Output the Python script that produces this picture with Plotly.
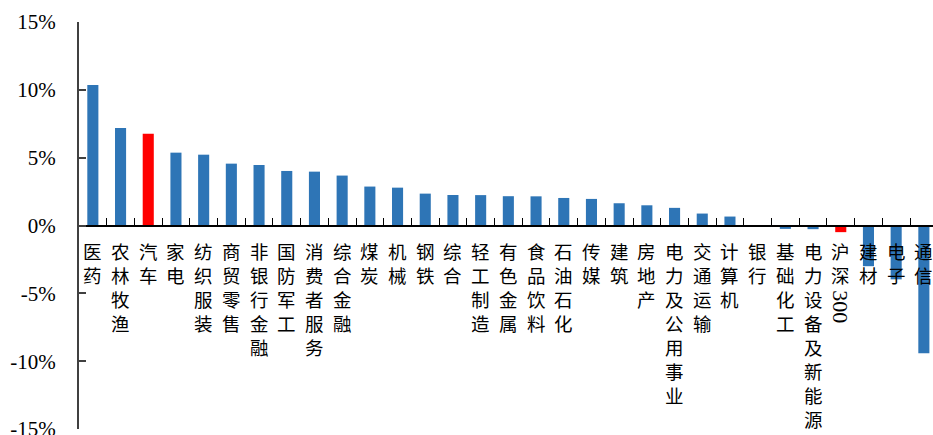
import plotly.graph_objects as go

categories = ["医药", "农林牧渔", "汽车", "家电", "纺织服装", "商贸零售", "非银行金融", "国防军工",
              "消费者服务", "综合金融", "煤炭", "机械", "钢铁", "综合", "轻工制造", "有色金属",
              "食品饮料", "石油石化", "传媒", "建筑", "房地产", "电力及公用事业", "交通运输", "计算机",
              "银行", "基础化工", "电力设备及新能源", "沪深300", "建材", "电子", "通信"]
values = [10.35, 7.18, 6.76, 5.37, 5.22, 4.56, 4.46, 4.02,
          3.97, 3.68, 2.87, 2.79, 2.35, 2.25, 2.24, 2.16,
          2.15, 2.03, 1.96, 1.64, 1.49, 1.30, 0.88, 0.66,
          -0.05, -0.25, -0.27, -0.49, -3.00, -3.97, -9.41]
highlight = ["汽车", "沪深300"]
ytick_vals = [-15, -10, -5, 0, 5, 10, 15]
ytick_text = ["-15%", "-10%", "-5%", "0%", "5%", "10%", "15%"]

BLUE = "#2E75B6"
RED = "#FF0000"
colors = [RED if c in highlight else BLUE for c in categories]

fig = go.Figure()
fig.add_trace(go.Bar(x=categories, y=values, marker=dict(color=colors, line=dict(width=0)), width=0.4))

font_lab = dict(family="Liberation Serif, Noto Sans CJK SC", size=18.5, color="black")
annotations = []
for c in categories:
    if c == "沪深300":
        annotations.append(dict(x=c, y=0, xref="x", yref="y", text="沪<br>深", showarrow=False,
                                xanchor="center", yanchor="top", yshift=-15, font=font_lab))
        annotations.append(dict(x=c, y=0, xref="x", yref="y", text="300", showarrow=False, textangle=90,
                                xanchor="center", yanchor="top", yshift=-63,
                                font=dict(family="Liberation Serif", size=22, color="black")))
    else:
        annotations.append(dict(x=c, y=0, xref="x", yref="y", text="<br>".join(list(c)), showarrow=False,
                                xanchor="center", yanchor="top", yshift=-15, font=font_lab))

fig.update_layout(
    width=933, height=435,
    margin=dict(l=79, r=0, t=22, b=6, autoexpand=False),
    plot_bgcolor="white", paper_bgcolor="white",
    showlegend=False,
    bargap=0.6,
    annotations=annotations,
    xaxis=dict(type="category", range=[-0.5, 30.33], anchor="free", position=0.5,
               showline=True, linecolor="black", linewidth=1.5, automargin=False,
               ticks="inside", ticklen=7, tickcolor="black", tickwidth=1.3,
               tickson="boundaries", showticklabels=False, showgrid=False, zeroline=False),
    yaxis=dict(range=[-15, 15], tickvals=ytick_vals, ticktext=ytick_text,
               showline=True, linecolor="#404040", linewidth=2, automargin=False,
               ticks="inside", ticklen=7, tickcolor="#404040", tickwidth=1.5,
               showgrid=False, zeroline=False,
               tickfont=dict(family="Liberation Serif", size=21, color="black"),
               ticklabelstandoff=17, ticklabeloverflow="allow"),
)

fig.write_html("out.html")
